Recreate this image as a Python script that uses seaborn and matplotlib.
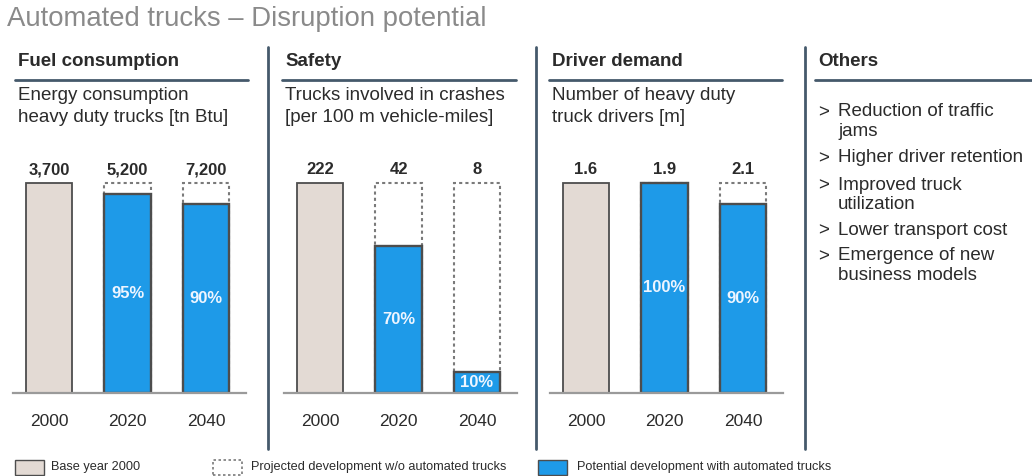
import numpy as np
import pandas as pd
import matplotlib
matplotlib.use("Agg")
import matplotlib.pyplot as plt
from matplotlib.patches import Rectangle
import seaborn as sns

sns.set_theme(style="white")
plt.rcParams["font.family"] = ["Liberation Sans", "DejaVu Sans"]

# ---- data -------------------------------------------------------------
years = ["2000", "2020", "2040"]

panel_titles = ["Fuel consumption", "Safety", "Driver demand"]
panel_subtitles = [
    "Energy consumption\nheavy duty trucks [tn Btu]",
    "Trucks involved in crashes\n[per 100 m vehicle-miles]",
    "Number of heavy duty\ntruck drivers [m]",
]
fuel_values = ["3,700", "5,200", "7,200"]
safety_values = ["222", "42", "8"]
driver_values = ["1.6", "1.9", "2.1"]
value_labels = [fuel_values, safety_values, driver_values]

# share of the projected value that remains with automated trucks [%]
fuel_share = [95, 90]
safety_share = [70, 10]
driver_share = [100, 90]
shares = [fuel_share, safety_share, driver_share]

others_title = "Others"
others_items = [
    "Reduction of traffic\njams",
    "Higher driver retention",
    "Improved truck\nutilization",
    "Lower transport cost",
    "Emergence of new\nbusiness models",
]

legend_labels = [
    "Base year 2000",
    "Projected development w/o automated trucks",
    "Potential development with automated trucks",
]

# ---- style --------------------------------------------------------------
TAN = "#e3dad4"
BLUE = "#1e9ae8"
EDGE = "#4d4d4d"
DOTTED = "#7a7a7a"
SLATE = "#45596b"
TEXT = "#2b2b2b"
HEAD_FS = 13.5
BODY_FS = 13.5

W, H = 1032, 476
fig = plt.figure(figsize=(W / 100, H / 100), dpi=100)


def fx(px):
    return px / W


def fy(py):
    return 1 - py / H


def text_lines(x, y0, text, step, **kw):
    """Place each line of a multi-line string at a fixed pixel pitch."""
    for k, line in enumerate(text.split("\n")):
        fig.text(fx(x), fy(y0 + k * step), line, va="center", ha="left", **kw)


fig.text(fx(7), fy(19), "Automated trucks \u2013 Disruption potential",
         fontsize=19.8, color="#8a8a8a", va="center", ha="left")

# vertical dividers between panels
for x in (268, 536, 805):
    fig.add_artist(plt.Line2D([fx(x), fx(x)], [fy(47), fy(449)],
                              color=SLATE, lw=2))

# panel geometry (pixels): first bar centre, spacing, underline span
centres0 = [49, 320, 586]
spacing = 78.5
underlines = [(15, 248), (282, 516), (549, 782)]

baseline_px = 393
full_px = 210      # pixel height of a 100 % bar
ylim_top = 1.15

for i in range(3):
    ul = underlines[i]
    fig.text(fx(ul[0] + 3), fy(62), panel_titles[i], fontsize=HEAD_FS,
             fontweight="bold", color=TEXT, va="center", ha="left")
    fig.add_artist(plt.Line2D([fx(ul[0]), fx(ul[1])], [fy(80), fy(80)],
                              color=SLATE, lw=2))
    text_lines(ul[0] + 3, 96, panel_subtitles[i], 21.5, fontsize=BODY_FS,
               color=TEXT)

    c0 = centres0[i]
    left_px = c0 - 36
    right_px = c0 + 2 * spacing + 40
    left_u = -36 / spacing
    right_u = 2 + 40 / spacing
    top_px = baseline_px - ylim_top * full_px
    ax = fig.add_axes([fx(left_px), fy(baseline_px),
                       fx(right_px - left_px), (baseline_px - top_px) / H])

    base = pd.DataFrame({"year": ["2000"], "h": [1.0]})
    projected = pd.DataFrame({"year": years[1:], "h": [1.0, 1.0]})
    automated = pd.DataFrame({"year": years[1:],
                              "h": np.array(shares[i]) / 100.0})

    sns.barplot(data=projected, x="year", y="h", order=years, ax=ax,
                color="white", width=0.59, edgecolor=DOTTED, linewidth=1.5,
                linestyle=(0, (1.5, 1.5)), errorbar=None)
    sns.barplot(data=base, x="year", y="h", order=years, ax=ax,
                color=TAN, saturation=1, width=0.59, edgecolor=EDGE,
                linewidth=1.3, linestyle="-", errorbar=None)
    sns.barplot(data=automated, x="year", y="h", order=years, ax=ax,
                color=BLUE, saturation=1, width=0.59, edgecolor=EDGE,
                linewidth=1.7, linestyle="-", errorbar=None)

    # value labels above each full-height bar
    tops = ax.containers[0].patches + ax.containers[1].patches
    tops = sorted([p for p in tops if p.get_height() > 0],
                  key=lambda p: p.get_x())
    for p, lab in zip(tops, value_labels[i]):
        ax.annotate(lab, (p.get_x() + p.get_width() / 2, p.get_height()),
                    xytext=(0, 9.5), textcoords="offset points",
                    ha="center", va="center", fontsize=12,
                    fontweight="bold", color=TEXT)

    # share labels centred in the automated bars
    ax.bar_label(ax.containers[2], labels=[f"{s}%" for s in shares[i]],
                 label_type="center", color="#eef5ff", fontsize=12,
                 fontweight="bold")

    ax.set_xlim(left_u, right_u)
    ax.set_ylim(0, ylim_top)
    ax.set_xlabel("")
    ax.set_ylabel("")
    ax.set_yticks([])
    ax.tick_params(axis="x", length=0, pad=15, labelsize=12.5, labelcolor=TEXT)
    for s in ("top", "left", "right"):
        ax.spines[s].set_visible(False)
    ax.spines["bottom"].set_color("#9a9a9a")
    ax.spines["bottom"].set_linewidth(1.6)
    ax.patch.set_alpha(0)

# "Others" panel
fig.text(fx(818), fy(62), others_title, fontsize=HEAD_FS, fontweight="bold",
         color=TEXT, va="center", ha="left")
fig.add_artist(plt.Line2D([fx(815), fx(1032)], [fy(80), fy(80)],
                          color=SLATE, lw=2))
item_first = [112, 158, 185, 230, 256]
for y, item in zip(item_first, others_items):
    fig.text(fx(818), fy(y + 1), ">", fontsize=BODY_FS, color=TEXT,
             va="center", ha="left")
    text_lines(838, y, item, 19.5, fontsize=BODY_FS, color=TEXT)

# legend at the bottom
swatches = [
    dict(x=15, fc=TAN, ec=EDGE, ls="-", lw=1.0),
    dict(x=213, fc="white", ec=DOTTED, ls=(0, (1.5, 1.5)), lw=1.2),
    dict(x=538, fc=BLUE, ec=EDGE, ls="-", lw=1.0),
]
text_x = [51, 251, 577]
for sw, tx, lab in zip(swatches, text_x, legend_labels):
    fig.add_artist(Rectangle((fx(sw["x"]), fy(475)), fx(29), 15 / H,
                             facecolor=sw["fc"], edgecolor=sw["ec"],
                             linestyle=sw["ls"], linewidth=sw["lw"]))
    fig.text(fx(tx), fy(467), lab, fontsize=9.2, color=TEXT, va="center",
             ha="left")

fig.savefig("out.png", dpi=100)
